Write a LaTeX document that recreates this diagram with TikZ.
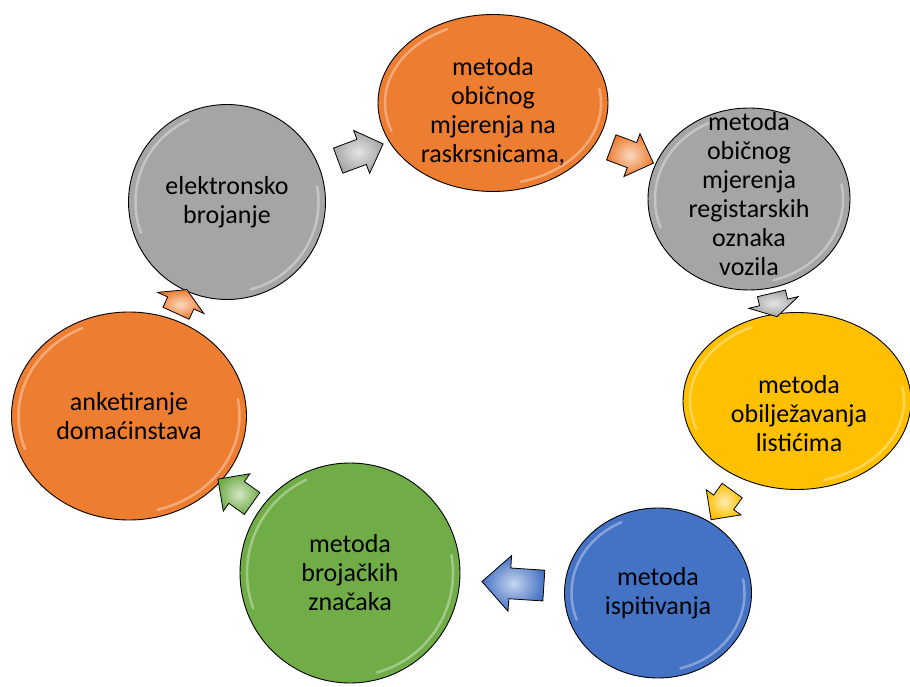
\documentclass[tikz,border=0pt]{standalone}
\usepackage{fontspec}
\setmainfont{Carlito}
\usetikzlibrary{calc,shapes.geometric,shapes.arrows}
\definecolor{narandza}{HTML}{ED7D31}
\definecolor{siva}{HTML}{A5A5A5}
\definecolor{zlatna}{HTML}{FFC000}
\definecolor{plava}{HTML}{4472C4}
\definecolor{zelena}{HTML}{70AD47}
\tikzset{
  krug/.style={ellipse, draw=black, line width=0.9pt, fill=#1, inner sep=0pt,
    path picture={\draw[white, opacity=.35, line width=2.5pt, line cap=round]
      let \p1=(path picture bounding box.north east), \p2=(path picture bounding box.center),
          \n1={\x1-\x2-7pt}, \n2={\y1-\y2-7pt}
      in ([shift={(200:\n1 and \n2)}]\p2) arc[start angle=200, end angle=115, x radius=\n1, y radius=\n2]
         ([shift={(-75:\n1 and \n2)}]\p2) arc[start angle=-75, end angle=10, x radius=\n1, y radius=\n2];}},
  tekst/.style={align=center, font=\fontsize{26}{29}\selectfont},
  strelica/.style={single arrow, draw=black, line width=0.8pt, inner xsep=0pt, inner ysep=13pt,
    single arrow head extend=9.5pt, inner color=#1!30!white, outer color=#1,
    midway, sloped, allow upside down}
}

\begin{document}
\begin{tikzpicture}[x=1pt, y=-1pt]
			%%%%% START %%%%%
			\useasboundingbox (0, 0) rectangle (910, 687);
			
			\node[krug=narandza, minimum width=230pt, minimum height=177pt] (c1) at (493, 103) {};
			\node[tekst] (t1) at (493, 112) {metoda\\običnog\\mjerenja na\\raskrsnicama,};
			
			\node[krug=siva, minimum width=202pt, minimum height=182pt] (c2) at (749, 199) {};
			\node[tekst] (t2) at (749, 194) {metoda\\običnog\\mjerenja\\registarskih\\oznaka\\vozila};
			
			\node[krug=zlatna, minimum width=228pt, minimum height=177pt] (c3) at (797, 401) {};
			\node[tekst] (t3) at (799, 414) {metoda\\obilježavanja\\listićima};
			
			\node[krug=plava, minimum width=187pt, minimum height=170pt] (c4) at (658, 593) {};
			\node[tekst] (t4) at (c4) {metoda\\ispitivanja};
			
			\node[krug=zelena, minimum width=220pt, minimum height=220pt] (c5) at (350, 573) {};
			\node[tekst] (t5) at (c5) {metoda\\brojačkih\\značaka};
			
			\node[krug=narandza, minimum width=235pt, minimum height=208pt] (c6) at (129, 416) {};
			\node[tekst] (t6) at (c6) {anketiranje\\domaćinstava};
			
			\node[krug=siva, minimum width=197pt, minimum height=195pt] (c7) at (227, 202) {};
			\node[tekst] (t7) at (c7) {elektronsko\\brojanje};
			
			\path (c7) -- (c1) node[strelica=siva, minimum height=48pt] (s1) {};
			\path (c1) -- (c2) node[strelica=narandza, minimum height=45pt] (s2) {};
			\path (c2) -- (c3) node[strelica=siva, minimum height=24pt, inner ysep=14pt, single arrow head extend=11pt, single arrow tip angle=120] (s3) {};
			\path (c3) -- (c4) node[strelica=zlatna, minimum height=36pt, inner ysep=12pt, single arrow head extend=9pt] (s4) {};
			\path (c4) -- (c5) node[strelica=plava, pos=.42, minimum height=62pt, inner ysep=15pt, single arrow head extend=12.5pt] (s5) {};
			\path (c5) -- (c6) node[strelica=zelena, minimum height=42pt] (s6) {};
			\path (c6) -- (c7) node[strelica=narandza, minimum height=26pt, inner ysep=14pt, single arrow head extend=11pt, single arrow tip angle=120] (s7) {};
			
			%%%%% END %%%%%
		\end{tikzpicture}
\end{document}
